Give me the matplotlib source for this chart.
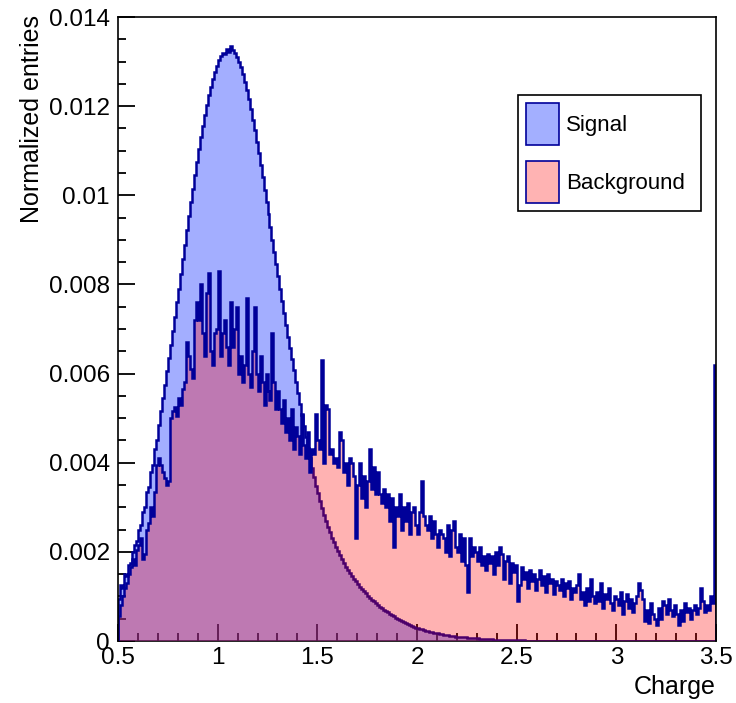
import numpy as np
import matplotlib
matplotlib.use('Agg')
import matplotlib.pyplot as plt
from matplotlib.patches import Patch
from matplotlib.ticker import MultipleLocator, FuncFormatter

plt.rcParams['font.family'] = ['Liberation Sans', 'DejaVu Sans']

# histogram range, 300 bins of 0.01
x_min, x_max, n_bins = 0.5, 3.5, 300

# bin contents in units of 1e-5 (one row = 0.1 in charge)
signal = [
    95, 125, 120, 150, 145, 170, 175, 200, 215, 225,
    250, 260, 290, 300, 335, 345, 380, 395, 430, 450,
    485, 515, 545, 575, 605, 635, 665, 695, 728, 760,
    790, 823, 856, 889, 921, 953, 984, 1015, 1045, 1075,
    1103, 1130, 1155, 1180, 1202, 1224, 1243, 1261, 1277, 1291,
    1303, 1312, 1320, 1316, 1329, 1322, 1335, 1326, 1320, 1311,
    1300, 1287, 1272, 1255, 1236, 1215, 1193, 1170, 1146, 1120,
    1094, 1067, 1040, 1012, 985, 957, 929, 900, 872, 846,
    818, 790, 763, 736, 709, 683, 657, 632, 607, 582,
    557, 532, 507, 482, 458, 434, 411, 389, 368, 348,
    331, 314, 298, 283, 269, 256, 244, 232, 221, 211,
    201, 192, 183, 175, 167, 160, 153, 146, 140, 134,
    128, 122, 117, 112, 107, 102, 97, 93, 89, 85,
    81, 77, 74, 70, 67, 64, 61, 58, 55, 52,
    49, 47, 44, 42, 40, 38, 36, 34, 32, 30,
    29, 27, 26, 24, 23, 22, 21, 20, 19, 18,
    17, 16, 15, 14, 13, 13, 12, 11, 11, 10,
    10, 9, 9, 8, 8, 7, 7, 7, 6, 6,
    6, 5, 5, 5, 4, 4, 4, 4, 3, 3,
    3, 3, 3, 2, 2, 2, 2, 2, 2, 2,
    2, 2, 2, 2, 1, 1, 1, 1, 1, 1,
    1, 1, 1, 1, 1, 1, 1, 1, 1, 1,
    1, 1, 1, 1, 1, 1, 1, 1, 1, 1,
    1, 1, 1, 1, 1, 0, 1, 0, 1, 0,
    0, 0, 0, 0, 0, 0, 0, 0, 0, 0,
    0, 0, 0, 0, 0, 0, 0, 0, 0, 0,
    0, 0, 0, 0, 0, 0, 0, 0, 0, 0,
    0, 0, 0, 0, 0, 0, 0, 0, 0, 0,
    0, 0, 0, 0, 0, 0, 0, 0, 0, 0,
    0, 0, 0, 0, 0, 0, 0, 0, 0, 0,
]

background = [
    55, 80, 100, 120, 130, 150, 165, 185, 170, 205,
    215, 230, 185, 195, 250, 265, 300, 280, 335, 395,
    410, 395, 380, 365, 350, 360, 500, 515, 525, 505,
    545, 530, 565, 580, 670, 640, 610, 590, 720, 760,
    720, 800, 690, 640, 780, 825, 650, 620, 690, 700,
    830, 640, 690, 720, 660, 620, 760, 660, 700, 750,
    600, 640, 580, 620, 770, 600, 570, 650, 750, 600,
    560, 640, 580, 530, 600, 560, 540, 690, 580, 520,
    560, 520, 490, 540, 470, 500, 450, 520, 430, 480,
    460, 420, 510, 440, 410, 470, 380, 430, 420, 510,
    450, 430, 630, 400, 530, 520, 420, 430, 400, 410,
    390, 470, 450, 380, 400, 350, 410, 400, 370, 230,
    350, 400, 320, 370, 300, 360, 430, 340, 390, 330,
    380, 330, 310, 340, 300, 330, 270, 320, 210, 300,
    280, 330, 250, 300, 270, 310, 240, 290, 300, 260,
    240, 290, 360, 280, 260, 250, 280, 230, 270, 240,
    210, 250, 240, 230, 200, 260, 190, 250, 270, 210,
    200, 240, 180, 230, 170, 110, 230, 190, 210, 200,
    180, 210, 170, 190, 160, 195, 175, 190, 150, 200,
    170, 210, 195, 140, 180, 190, 130, 175, 155, 170,
    90, 125, 165, 140, 155, 120, 160, 135, 150, 115,
    140, 160, 125, 145, 110, 150, 130, 140, 105, 135,
    125, 115, 140, 100, 130, 120, 135, 95, 120, 110,
    125, 150, 95, 110, 80, 120, 90, 140, 100, 85,
    110, 90, 130, 75, 105, 95, 120, 85, 70, 100,
    95, 80, 110, 60, 90, 105, 75, 95, 65, 85,
    100, 130, 115, 95, 45, 70, 40, 85, 60, 50,
    35, 75, 50, 90, 80, 60, 95, 70, 55, 80,
    60, 35, 70, 45, 85, 65, 75, 50, 70, 80,
    60, 75, 120, 90, 65, 80, 70, 100, 85, 620,
]

legend_labels = ['Signal', 'Background']

edges = np.linspace(x_min, x_max, n_bins + 1)
sig = np.array(signal) * 1e-5
bkg = np.array(background) * 1e-5

line_col = '#000099'
sig_fill = (0.2, 0.3, 1.0, 0.45)
bkg_fill = (1.0, 0.0, 0.0, 0.3)

fig = plt.figure(figsize=(7.36, 7.03), dpi=100)
ax = fig.add_axes([118 / 736, 62 / 703, 598 / 736, 624 / 703])
ax.set_axisbelow(True)

ax.stairs(sig, edges, fill=True, color=sig_fill, zorder=2)
ax.stairs(sig, edges, color=line_col, lw=1.8, zorder=2.1)
ax.stairs(bkg, edges, fill=True, color=bkg_fill, zorder=2.2)
ax.stairs(bkg, edges, color=line_col, lw=1.8, zorder=2.3)

ax.set_xlim(x_min, x_max)
ax.set_ylim(0, 0.014)

ax.xaxis.set_major_locator(MultipleLocator(0.5))
ax.xaxis.set_minor_locator(MultipleLocator(0.1))
ax.yaxis.set_major_locator(MultipleLocator(0.002))
ax.yaxis.set_minor_locator(MultipleLocator(0.0005))
fmt = FuncFormatter(lambda v, p: '%g' % round(v, 6))
ax.xaxis.set_major_formatter(fmt)
ax.yaxis.set_major_formatter(fmt)

ax.tick_params(which='both', direction='in', top=False, right=False,
               width=1.3, labelsize=17.5, colors='black')
ax.tick_params(which='major', length=12)
ax.tick_params(which='minor', length=6)
ax.tick_params(axis='y', pad=6)
ax.tick_params(axis='x', pad=4)

for s in ax.spines.values():
    s.set_linewidth(1.2)
ax.spines['bottom'].set_zorder(1)

fig.text(32 / 736, 1 - 15 / 703, 'Normalized entries', rotation=90,
         ha='center', va='top', fontsize=18)
fig.text(716 / 736, 1 - 687 / 703, 'Charge', ha='right', va='center',
         fontsize=18)

handles = [
    Patch(facecolor=(0.64, 0.685, 1.0), edgecolor=line_col, lw=1.2,
          label=legend_labels[0]),
    Patch(facecolor=(1.0, 0.7, 0.7), edgecolor=line_col, lw=1.2,
          label=legend_labels[1]),
]
leg = ax.legend(handles=handles, loc='upper left',
                bbox_to_anchor=(0.669, 0.6875, 0.306, 0.1875), mode='expand',
                borderaxespad=0, fontsize=16, frameon=True, fancybox=False,
                edgecolor='black', framealpha=1, borderpad=0.36,
                handlelength=1.5, handleheight=2.5, handletextpad=0.3,
                labelspacing=0.75)
leg.get_frame().set_linewidth(1.2)

fig.savefig('out.png', dpi=100)
